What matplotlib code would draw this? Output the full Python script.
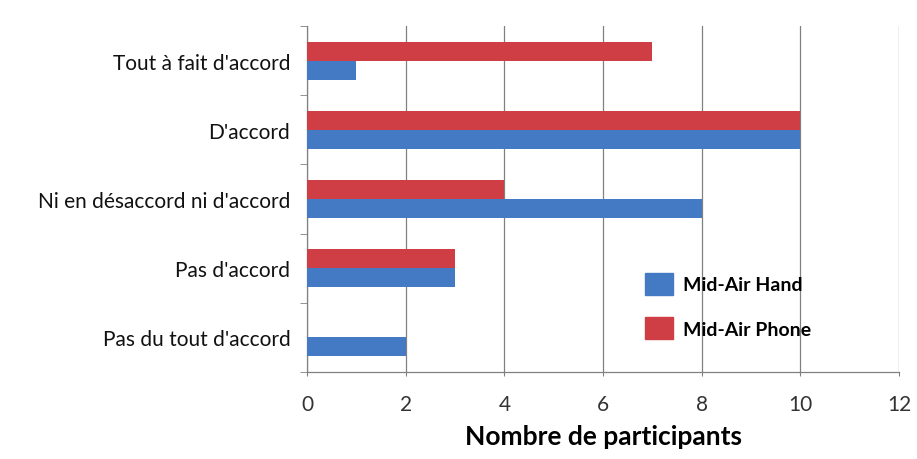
import matplotlib
matplotlib.use('Agg')
import matplotlib.pyplot as plt
import matplotlib.patches as mpatches
import numpy as np

plt.rcParams['font.family'] = ['Lato', 'DejaVu Sans']

categories = ["Pas du tout d'accord", "Pas d'accord", "Ni en désaccord ni d'accord",
              "D'accord", "Tout à fait d'accord"]
hand = [2, 3, 8, 10, 1]
phone = [0, 3, 4, 10, 7]
series_names = ['Mid-Air Hand', 'Mid-Air Phone']
xticks = [0, 2, 4, 6, 8, 10, 12]

blue = '#4479c4'
red = '#cf3d45'

fig = plt.figure(figsize=(9.17, 4.6), dpi=100)
ax = fig.add_axes([0.3348, 0.1891, 0.6456, 0.7522])

y = np.arange(len(categories))
h = 0.275
ax.barh(y - h / 2, hand, height=h, color=blue, zorder=3)
ax.barh(y + h / 2, phone, height=h, color=red, zorder=3)

ax.set_xlim(0, 12)
ax.set_ylim(-0.5, len(categories) - 0.5)
ax.set_xticks(xticks)
ax.set_xticklabels([str(v) for v in xticks])
ax.set_yticks(y)
ax.set_yticklabels(categories)
ax.set_yticks(np.arange(-0.5, len(categories), 1), minor=True)

ax.grid(axis='x', color='#808080', linewidth=0.9, zorder=0)
for s in ['top', 'right']:
    ax.spines[s].set_visible(False)
for s in ['left', 'bottom']:
    ax.spines[s].set_color('#808080')
    ax.spines[s].set_linewidth(0.9)

ax.tick_params(axis='y', which='major', length=0, pad=12, labelsize=15, labelcolor='#111111')
ax.tick_params(axis='y', which='minor', length=5, color='#808080', direction='out')
ax.tick_params(axis='x', which='major', length=3, color='#808080', pad=13,
               labelsize=15, labelcolor='#333333')

ax.set_xlabel('Nombre de participants', fontsize=19, fontweight='bold', labelpad=7)

handles = [mpatches.Patch(color=blue, label=series_names[0]),
           mpatches.Patch(color=red, label=series_names[1])]
fig.legend(handles=handles, loc='upper left', bbox_to_anchor=(645 / 917, 1 - 274 / 460),
           frameon=False, borderpad=0, borderaxespad=0,
           prop={'size': 14, 'weight': 'bold'},
           handlelength=1.45, handleheight=1.35, handletextpad=0.5, labelspacing=1.15)

fig.savefig('out.png', dpi=100)
